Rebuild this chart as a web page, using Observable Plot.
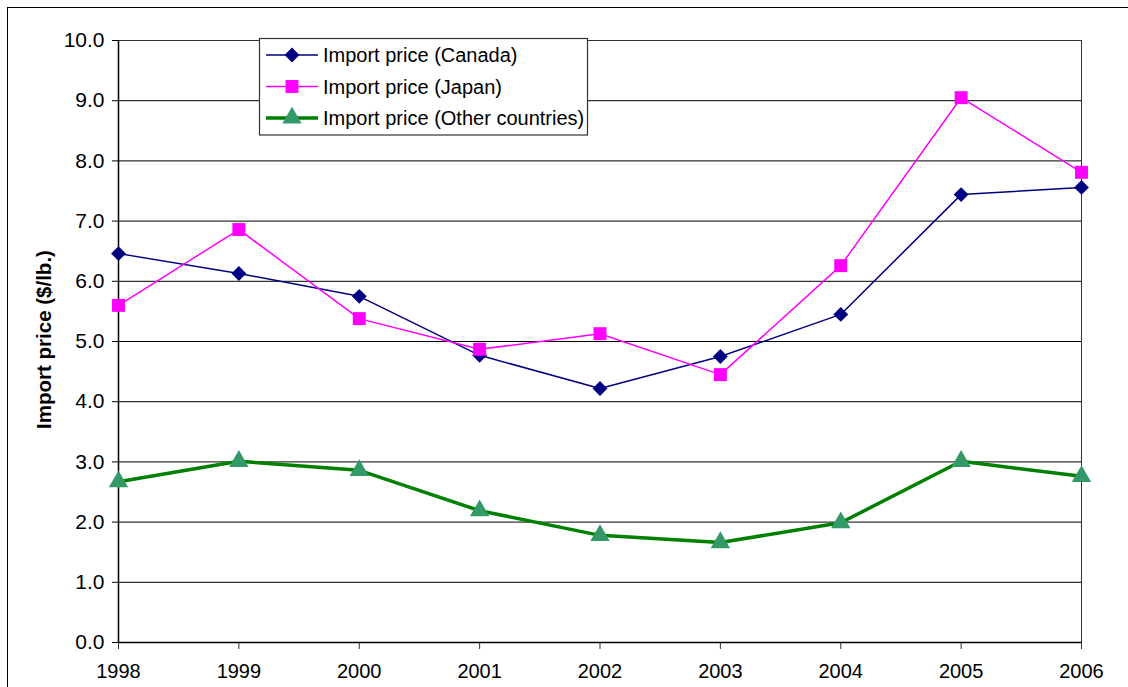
<!DOCTYPE html>
<html>
<head>
<meta charset="utf-8">
<script src="https://cdn.jsdelivr.net/npm/d3@7"></script>
<script src="https://cdn.jsdelivr.net/npm/@observablehq/plot@0.6"></script>
<style>
  html, body { margin: 0; padding: 0; background: #fff; overflow: hidden; }
  #wrap { position: relative; width: 1128px; height: 687px; overflow: hidden; }
  #chart { position: absolute; left: 0; top: 0; }
  #border { position: absolute; left: 7px; top: 7px; width: 1300px; height: 900px;
            border: 1.5px solid #000; box-sizing: border-box; pointer-events: none; }
</style>
</head>
<body>
<div id="wrap"><div id="chart"></div><div id="border"></div></div>
<script>
// Annual import prices, dollars per pound
const years = [1998, 1999, 2000, 2001, 2002, 2003, 2004, 2005, 2006];
const canada = [6.46, 6.13, 5.75, 4.77, 4.22, 4.75, 5.45, 7.44, 7.56];
const japan  = [5.60, 6.86, 5.38, 4.87, 5.13, 4.45, 6.26, 9.05, 7.81];
const others = [2.67, 3.01, 2.86, 2.19, 1.78, 1.66, 1.99, 3.01, 2.76];
const seriesNames = [
  "Import price (Canada)",
  "Import price (Japan)",
  "Import price (Other countries)"
];
const yTicks = [0, 1, 2, 3, 4, 5, 6, 7, 8, 9, 10];
const yTitle = "Import price ($/lb.)";

const font = "'Liberation Sans', Arial, sans-serif";

// One style per series: line colour/width, marker symbol/fill/size
const styles = [
  {line: "#000080", width: 1.5, symbol: "diamond2", fill: "#000080", r: 6.7},
  {line: "#FF00FF", width: 1.5, symbol: "square",   fill: "#FF00FF", r: 7.3},
  {line: "#008000", width: 3.5, symbol: "triangle", fill: "#339966", r: 7.2}
];

const seriesValues = [canada, japan, others];
const tables = seriesValues.map((vals, s) =>
  years.map((year, i) => ({year, value: vals[i], series: seriesNames[s]}))
);

const marks = [
  Plot.gridY(yTicks, {stroke: "#000", strokeOpacity: 1, strokeWidth: 1}),
  Plot.frame({stroke: "#333", strokeWidth: 1}),
  Plot.axisY(yTicks, {
    tickFormat: d3.format(".1f"), tickSize: 6, tickPadding: 8,
    fontSize: 21, label: null, stroke: "#000"
  }),
  Plot.axisX(years, {
    tickFormat: "d", tickSize: 7, tickPadding: 14,
    fontSize: 20, label: null, stroke: "#333"
  }),
  Plot.ruleX([years[0]], {stroke: "#000", strokeWidth: 1.5}),
  Plot.ruleY([0], {stroke: "#000", strokeWidth: 1.5}),
  Plot.text([yTitle], {
    frameAnchor: "left", dx: -74, dy: -2, rotate: -90, textAnchor: "middle",
    fontSize: 20.5, fontWeight: "bold", fill: "#000"
  })
];

tables.forEach((rows, s) => {
  const st = styles[s];
  marks.push(Plot.line(rows, {x: "year", y: "value", stroke: st.line, strokeWidth: st.width}));
});
tables.forEach((rows, s) => {
  const st = styles[s];
  marks.push(Plot.dot(rows, {x: "year", y: "value", symbol: () => st.symbol, r: st.r,
    fill: st.fill, stroke: "none"}));
});

const chart = Plot.plot({
  width: 1128,
  height: 687,
  marginLeft: 118,
  marginRight: 47,
  marginTop: 40,
  marginBottom: 45,
  style: {fontFamily: font, fontSize: "20px", background: "transparent", color: "#000"},
  x: {domain: [years[0], years[years.length - 1]], axis: null},
  y: {domain: [0, 10], axis: null},
  symbol: {type: "identity"},
  marks
});
document.getElementById("chart").appendChild(chart);

// Legend box drawn inside the plot area
const svg = d3.select(chart);
const lg = svg.append("g").attr("font-family", font).attr("font-size", 20)
  .attr("text-anchor", "start");
lg.append("rect").attr("x", 259.5).attr("y", 38.5).attr("width", 328).attr("height", 96.5)
  .attr("fill", "#fff").attr("stroke", "#333").attr("stroke-width", 1.2);
const symbolFor = {diamond2: d3.symbolDiamond2, square: d3.symbolSquare, triangle: d3.symbolTriangle};
seriesNames.forEach((name, s) => {
  const st = styles[s];
  const cy = 55 + s * 31.5;
  const row = lg.append("g").attr("transform", `translate(0,${cy})`);
  row.append("line").attr("x1", 266).attr("x2", 318).attr("y1", 0).attr("y2", 0)
    .attr("stroke", st.line).attr("stroke-width", st.width);
  row.append("path").attr("transform", "translate(292,0)")
    .attr("d", d3.symbol(symbolFor[st.symbol], Math.PI * st.r * st.r)())
    .attr("fill", st.fill);
  row.append("text").attr("x", 323).attr("y", 0).attr("dy", "0.35em")
    .attr("text-anchor", "start").attr("fill", "#000").text(name);
});
</script>
</body>
</html>
